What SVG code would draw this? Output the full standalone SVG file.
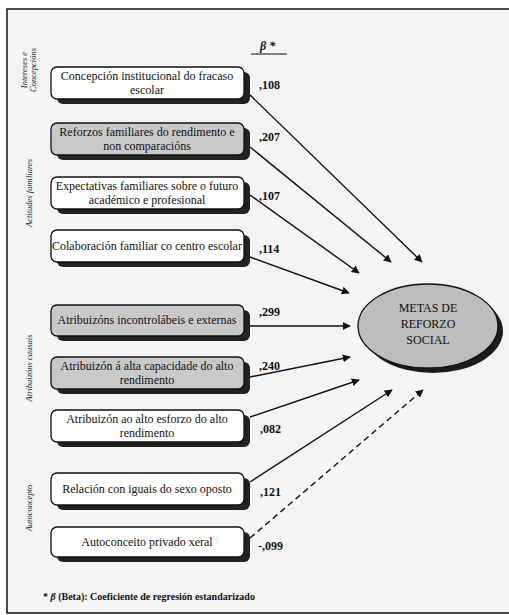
<svg xmlns="http://www.w3.org/2000/svg" width="509" height="615" viewBox="0 0 509 615">
<defs>
<style>
.box{stroke:#111;stroke-width:1.3}
.w{fill:#fff}
.g{fill:#c9c9c9}
.sh{fill:#222}
.t{font-family:'Liberation Serif','Tinos','DejaVu Serif',serif;font-size:12px;fill:#111;text-anchor:middle}
.n{font-family:'Liberation Serif','Tinos','DejaVu Serif',serif;font-size:12px;font-weight:bold;fill:#111}
.lab{font-family:'Liberation Serif','Tinos','DejaVu Serif',serif;font-size:8.5px;font-style:italic;fill:#222;text-anchor:middle}
.f{font-family:'Liberation Serif','Tinos','DejaVu Serif',serif;font-size:10px;font-weight:bold;fill:#111}
.c{stroke:#111;stroke-width:1.4;fill:none}
</style>
<marker id="ah" viewBox="0 0 10 10" refX="9" refY="5" markerWidth="8" markerHeight="8" markerUnits="userSpaceOnUse" orient="auto">
<path d="M0,0 L10,5 L0,10 z" fill="#111"/>
</marker>
</defs>
<rect x="0" y="0" width="509" height="615" fill="#fff"/>
<rect x="7" y="9" width="510" height="604" fill="#f4f4f4" stroke="#111" stroke-width="1.5"/>

<g id="labels">
<text class="lab" transform="translate(27,70) rotate(-90)">Intereses e</text>
<text class="lab" transform="translate(36,70) rotate(-90)">Concepcións</text>
<text class="lab" transform="translate(32,193) rotate(-90)">Actitudes familiares</text>
<text class="lab" transform="translate(32,368) rotate(-90)">Atribuizóns causais</text>
<text class="lab" transform="translate(32,508) rotate(-90)">Autoconcepto</text>
</g>

<g id="beta">
<text class="n" x="260" y="50" font-style="italic">β *</text>
<line x1="251" y1="54" x2="287" y2="54" stroke="#111" stroke-width="1.2"/>
</g>

<g id="node1">
<rect class="sh" x="57" y="72" width="193" height="32" rx="6"/>
<rect class="box w" x="51" y="67" width="193" height="32" rx="6"/>
<text class="t" x="147" y="80">Concepción institucional do fracaso</text>
<text class="t" x="147" y="94">escolar</text>
</g>
<g id="node2">
<rect class="sh" x="57" y="128" width="193" height="32" rx="6"/>
<rect class="box g" x="51" y="123" width="193" height="32" rx="6"/>
<text class="t" x="147" y="136">Reforzos familiares do rendimento e</text>
<text class="t" x="147" y="150">non comparacións</text>
</g>
<g id="node3">
<rect class="sh" x="57" y="182" width="193" height="32" rx="6"/>
<rect class="box w" x="51" y="177" width="193" height="32" rx="6"/>
<text class="t" x="147" y="190">Expectativas familiares sobre o futuro</text>
<text class="t" x="147" y="204">académico e profesional</text>
</g>
<g id="node4">
<rect class="sh" x="57" y="235" width="193" height="32" rx="6"/>
<rect class="box w" x="51" y="230" width="193" height="32" rx="6"/>
<text class="t" x="147" y="250">Colaboración familiar co centro escolar</text>
</g>
<g id="node5">
<rect class="sh" x="57" y="310" width="193" height="31" rx="6"/>
<rect class="box g" x="51" y="305" width="193" height="31" rx="6"/>
<text class="t" x="147" y="324">Atribuizóns incontrolábeis e externas</text>
</g>
<g id="node6">
<rect class="sh" x="57" y="362" width="193" height="32" rx="6"/>
<rect class="box g" x="51" y="357" width="193" height="32" rx="6"/>
<text class="t" x="147" y="370">Atribuizón á alta capacidade do alto</text>
<text class="t" x="147" y="384">rendimento</text>
</g>
<g id="node7">
<rect class="sh" x="57" y="415" width="193" height="32" rx="6"/>
<rect class="box w" x="51" y="410" width="193" height="32" rx="6"/>
<text class="t" x="147" y="423">Atribuizón ao alto esforzo do alto</text>
<text class="t" x="147" y="437">rendimento</text>
</g>
<g id="node8">
<rect class="sh" x="57" y="478" width="193" height="32" rx="6"/>
<rect class="box w" x="51" y="473" width="193" height="32" rx="6"/>
<text class="t" x="147" y="493">Relación con iguais do sexo oposto</text>
</g>
<g id="node9">
<rect class="sh" x="57" y="532" width="193" height="30" rx="6"/>
<rect class="box w" x="51" y="527" width="193" height="30" rx="6"/>
<text class="t" x="147" y="546">Autoconceito privado xeral</text>
</g>

<g id="target">
<ellipse cx="433" cy="331" rx="70" ry="42" fill="#1c1c1c"/>
<ellipse cx="428" cy="326" rx="70" ry="42" fill="#bdbdbd" stroke="#111" stroke-width="1.3"/>
<text class="t" x="428" y="312" font-size="15px">METAS DE</text>
<text class="t" x="428" y="328" font-size="15px">REFORZO</text>
<text class="t" x="428" y="344" font-size="15px">SOCIAL</text>
</g>

<g id="connectors">
<line class="c" x1="250" y1="95" x2="422" y2="262" marker-end="url(#ah)"/>
<line class="c" x1="250" y1="147" x2="391" y2="262" marker-end="url(#ah)"/>
<line class="c" x1="250" y1="195" x2="359" y2="273" marker-end="url(#ah)"/>
<line class="c" x1="250" y1="257" x2="349" y2="293" marker-end="url(#ah)"/>
<line class="c" x1="250" y1="326" x2="350" y2="326" marker-end="url(#ah)"/>
<line class="c" x1="250" y1="377" x2="350" y2="357" marker-end="url(#ah)"/>
<line class="c" x1="250" y1="417" x2="359" y2="380" marker-end="url(#ah)"/>
<line class="c" x1="250" y1="482" x2="392" y2="390" marker-end="url(#ah)"/>
<line class="c" x1="250" y1="538" x2="423" y2="390" stroke-dasharray="6,4" marker-end="url(#ah)"/>
</g>

<g id="coefs">
<text class="n" x="259" y="89">,108</text>
<text class="n" x="259" y="141">,207</text>
<text class="n" x="259" y="200">,107</text>
<text class="n" x="259" y="253">,114</text>
<text class="n" x="259" y="316">,299</text>
<text class="n" x="259" y="370">,240</text>
<text class="n" x="260" y="433">,082</text>
<text class="n" x="260" y="496">,121</text>
<text class="n" x="258" y="550">-,099</text>
</g>

<g id="footnote">
<text class="f" x="43" y="600">* <tspan font-style="italic">β</tspan> (Beta): Coeficiente de regresión estandarizado</text>
</g>
</svg>
